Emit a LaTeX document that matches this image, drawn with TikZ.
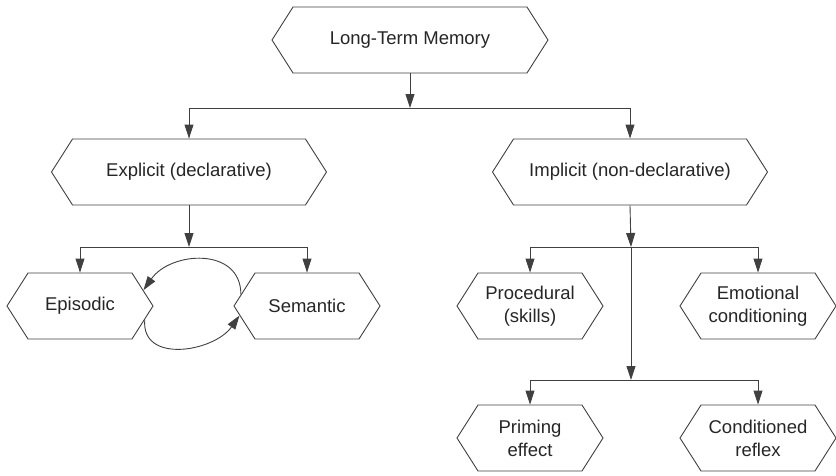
\documentclass[tikz,border=0pt]{standalone}
\usepackage{fontspec}
\setmainfont{Liberation Sans}
\usetikzlibrary{shapes.symbols,arrows.meta}

\begin{document}
\begin{tikzpicture}[x=1pt,y=-1pt,font=\fontsize{18.5}{23}\selectfont,
    line width=0.9pt,
    arr/.style={-{Triangle[length=14pt,width=9pt]}}]

      \useasboundingbox (0,0) rectangle (836,475);

      \begin{scope}[every node/.style={signal,signal to=east and west,
          signal pointer angle=115,draw=black!75,text=black!85,
          inner sep=0pt,minimum height=66pt,align=center}]
        \node[minimum width=276pt] (ltm)  at (410,40)  {Long-Term Memory};
        \node[minimum width=275pt] (expl) at (189,172) {Explicit (declarative)};
        \node[minimum width=275pt] (impl) at (630,172) {Implicit (non-declarative)};
        \node[minimum width=146pt] (epi)  at (80,306)  {Episodic};
        \node[minimum width=146pt] (sem)  at (307,306) {Semantic};
        \node[minimum width=146pt] (proc) at (530,306) {Procedural\\(skills)};
        \node[minimum width=156pt] (emo)  at (758,306) {Emotional\\conditioning};
        \node[minimum width=146pt] (prim) at (530,438) {Priming\\effect};
        \node[minimum width=156pt] (cond) at (758,438) {Conditioned\\reflex};
      \end{scope}

      \coordinate (j1) at (410,108);
      \coordinate (j2) at (189,247);
      \coordinate (j3) at (631,247);
      \coordinate (j4) at (631,380);

      \begin{scope}[draw=black!75]
        \draw[arr] (ltm.south) -- (j1);
        \draw[arr] (j1) -| (expl.north);
        \draw[arr] (j1) -| (impl.north);

        \draw[arr] (expl.south) -- (j2);
        \draw[arr] (j2) -| (epi.north);
        \draw[arr] (j2) -| (sem.north);

        \draw[arr] (impl.south) -- (j3);
        \draw[arr] (j3) -- (j4);
        \draw[arr] (j3) -| (proc.north);
        \draw[arr] (j3) -| (emo.north);
        \draw[arr] (j4) -| (prim.north);
        \draw[arr] (j4) -| (cond.north);

        \path (sem.170) edge[arr,out=90,in=55,looseness=1.25] (epi.14);
        \path (epi.-12) edge[arr,out=-95,in=-125,looseness=1.2] (sem.188);
      \end{scope}

    \end{tikzpicture}
\end{document}
